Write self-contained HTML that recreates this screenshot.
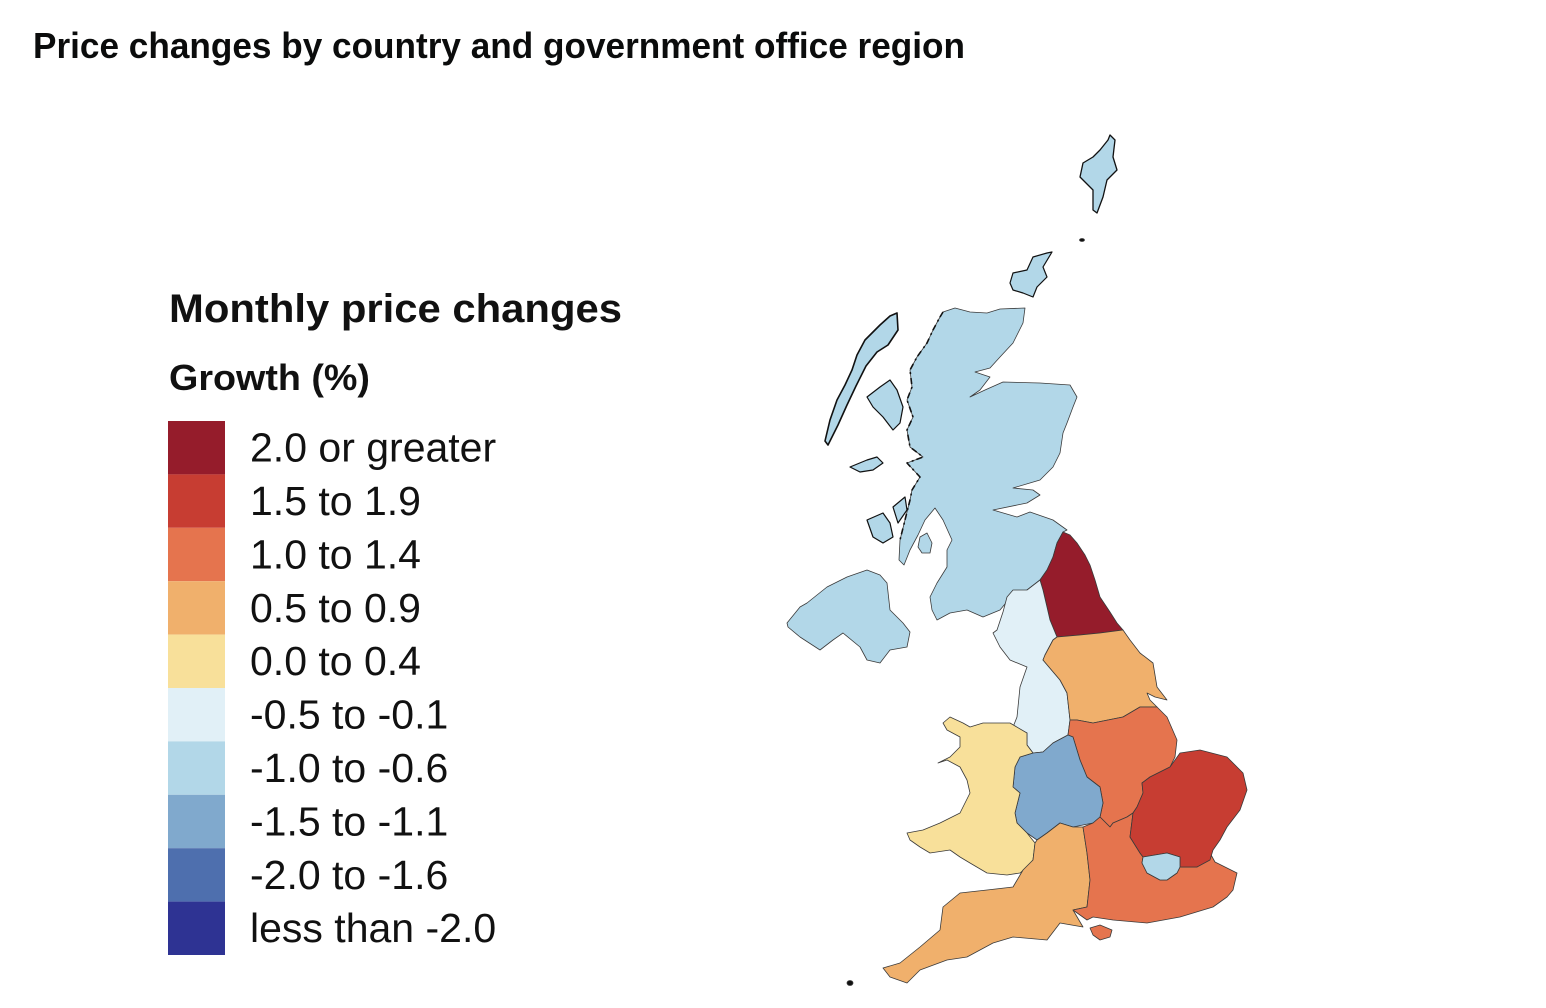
<!DOCTYPE html>
<html><head><meta charset="utf-8"><style>
html,body{margin:0;padding:0;background:#fff;}
svg{display:block;}
</style></head><body>
<svg width="1546" height="1008" viewBox="0 0 1546 1008" xmlns="http://www.w3.org/2000/svg">
<rect width="1546" height="1008" fill="#fff"/>
<text x="33" y="58" font-family="Liberation Sans, sans-serif" font-weight="bold" font-size="36" fill="#0b0c0c" textLength="932" lengthAdjust="spacingAndGlyphs">Price changes by country and government office region</text>
<text x="169" y="322" font-family="Liberation Sans, sans-serif" font-weight="bold" font-size="40" fill="#111" textLength="453" lengthAdjust="spacingAndGlyphs">Monthly price changes</text>
<text x="169" y="390" font-family="Liberation Sans, sans-serif" font-weight="bold" font-size="36" fill="#111" textLength="201" lengthAdjust="spacingAndGlyphs">Growth (%)</text>
<g>
<rect x="168" y="421" width="57" height="53.4" fill="#951c2b"/>
<rect x="168" y="474.4" width="57" height="53.4" fill="#c73d32"/>
<rect x="168" y="527.8" width="57" height="53.4" fill="#e5744e"/>
<rect x="168" y="581.2" width="57" height="53.4" fill="#f0b06c"/>
<rect x="168" y="634.6" width="57" height="53.4" fill="#f8e09a"/>
<rect x="168" y="688" width="57" height="53.4" fill="#e1f0f7"/>
<rect x="168" y="741.4" width="57" height="53.4" fill="#b2d7e8"/>
<rect x="168" y="794.8" width="57" height="53.4" fill="#80a9cd"/>
<rect x="168" y="848.2" width="57" height="53.4" fill="#4e6fae"/>
<rect x="168" y="901.6" width="57" height="53.4" fill="#2e3393"/>
</g>
<g font-family="Liberation Sans, sans-serif" font-size="41" fill="#111">
<text x="250" y="461.6">2.0 or greater</text>
<text x="250" y="515">1.5 to 1.9</text>
<text x="250" y="568.4">1.0 to 1.4</text>
<text x="250" y="621.8">0.5 to 0.9</text>
<text x="250" y="675.2">0.0 to 0.4</text>
<text x="250" y="728.6">-0.5 to -0.1</text>
<text x="250" y="782">-1.0 to -0.6</text>
<text x="250" y="835.4">-1.5 to -1.1</text>
<text x="250" y="888.8">-2.0 to -1.6</text>
<text x="250" y="942.2">less than -2.0</text>
</g>
<g stroke="#3a3a3a" stroke-width="0.8" stroke-linejoin="round">
<!-- Scotland -->
<polygon fill="#b2d7e8" points="943,312 955,308 970,312 987,313 1000,309 1025,308 1023,323 1013,343 1000,357 990,368 975,372 990,377 980,390 970,397 985,390 1003,382 1040,383 1070,385 1077,397 1073,407 1067,423 1063,433 1060,453 1053,467 1040,480 1013,488 1033,490 1040,495 1027,503 993,510 1017,517 1030,512 1053,520 1067,530 1063,532 1057,543 1053,557 1047,570 1040,580 1027,590 1010,598 1000,610 983,617 967,610 950,613 937,620 932,610 930,597 937,583 947,567 947,550 952,540 943,520 935,508 925,520 918,535 910,550 904,565 899,560 900,540 905,520 910,500 912,490 920,477 907,463 923,457 910,447 907,430 913,417 907,400 912,387 910,370 917,357 927,343 933,330 940,317"/>
<polyline fill="none" stroke="#111" stroke-width="1.6" stroke-dasharray="6 3 2 4" points="943,312 940,317 933,330 927,343 917,357 910,370 912,387 907,400 913,417 907,430 910,447 923,457 907,463 920,477 912,490 910,500 905,520 900,540"/>
<!-- Skye -->
<polygon fill="#b2d7e8" stroke="#111" stroke-width="1.2" points="867,397 880,387 890,380 897,390 903,407 900,423 893,430 883,417 873,407"/>
<!-- Mull -->
<polygon fill="#b2d7e8" stroke="#111" stroke-width="1.2" points="850,467 867,460 877,457 883,463 873,470 860,472"/>
<!-- Islay / Jura -->
<polygon fill="#b2d7e8" stroke="#111" stroke-width="1.2" points="867,520 883,513 890,523 893,537 883,543 873,537"/>
<polygon fill="#b2d7e8" stroke="#111" stroke-width="1.2" points="893,507 905,497 907,510 898,523"/>
<!-- Arran -->
<polygon fill="#b2d7e8" points="920,537 927,533 932,543 930,553 922,553 918,547"/>
<!-- Outer Hebrides -->
<polygon fill="#b2d7e8" stroke="#111" stroke-width="1.6" points="897,313 898,330 888,345 877,352 866,366 856,386 847,405 838,425 828,445 825,441 830,420 837,400 845,385 852,370 857,355 865,340 880,325 890,316"/>
<!-- Orkney -->
<polygon fill="#b2d7e8" stroke="#111" stroke-width="1.2" points="1013,273 1027,270 1033,257 1047,253 1052,252 1043,267 1047,277 1037,287 1033,297 1023,293 1013,290 1010,283"/>
<!-- Shetland -->
<polygon fill="#b2d7e8" stroke="#111" stroke-width="1.3" points="1110,135 1115,140 1113,157 1117,170 1107,180 1103,197 1097,213 1093,210 1093,190 1080,177 1083,163 1093,157 1100,150 1108,140"/>
<ellipse cx="1082" cy="240" rx="2.5" ry="1.5" fill="#111"/>
<ellipse cx="850" cy="983" rx="3" ry="2.5" fill="#111"/>
<!-- Northern Ireland -->
<polygon fill="#b2d7e8" points="787,623 800,607 807,603 827,587 847,577 867,570 880,575 887,583 890,610 903,623 910,632 907,647 890,650 880,663 867,660 860,647 843,633 833,640 820,650 800,637 788,627"/>
<!-- North East -->
<polygon fill="#951c2b" points="1063,532 1070,535 1077,543 1085,555 1090,565 1095,580 1100,597 1110,612 1117,623 1123,630 1100,633 1080,635 1057,637 1050,620 1047,607 1043,590 1040,580 1047,570 1053,557 1057,543"/>
<!-- North West -->
<polygon fill="#e1f0f7" points="1040,580 1043,590 1047,607 1050,620 1057,637 1053,640 1045,655 1043,660 1060,680 1067,693 1070,720 1068,735 1053,743 1043,752 1033,753 1027,745 1027,733 1013,727 1017,717 1020,687 1027,667 1010,660 1000,647 993,633 997,630 1003,612 1007,597 1013,590 1027,590"/>
<!-- Yorkshire -->
<polygon fill="#f0b06c" points="1057,637 1080,635 1100,633 1123,630 1130,640 1140,653 1153,663 1157,687 1167,700 1155,697 1147,693 1150,700 1157,707 1140,707 1123,717 1093,723 1077,720 1070,720 1067,693 1060,680 1043,660 1045,655 1053,640"/>
<!-- East Midlands -->
<polygon fill="#e5744e" points="1070,720 1077,720 1093,723 1123,717 1140,707 1157,707 1167,717 1177,740 1175,757 1170,767 1150,777 1142,783 1143,793 1137,807 1133,813 1127,817 1113,823 1110,827 1100,817 1103,803 1100,787 1087,777 1080,760 1073,737 1068,735"/>
<!-- West Midlands -->
<polygon fill="#80a9cd" points="1033,753 1043,752 1053,743 1068,735 1073,737 1080,760 1087,777 1100,787 1103,803 1100,817 1093,823 1073,827 1060,823 1047,833 1037,840 1027,833 1017,823 1015,813 1020,793 1013,787 1015,767 1020,757"/>
<!-- Wales -->
<polygon fill="#f8e09a" points="943,723 950,717 963,723 970,727 983,723 1010,723 1027,733 1027,745 1033,753 1020,757 1015,767 1013,787 1020,793 1015,813 1017,823 1027,833 1035,843 1033,860 1027,867 1020,873 1007,875 987,873 970,863 960,857 950,850 930,853 920,847 910,840 907,833 923,830 940,823 960,813 970,793 967,780 960,767 947,760 938,763 950,757 960,747 960,737 947,730"/>
<!-- South West -->
<polygon fill="#f0b06c" points="1037,840 1047,833 1060,823 1073,827 1083,827 1087,853 1090,880 1087,907 1073,910 1083,927 1060,923 1047,940 1013,937 993,943 967,957 947,960 920,970 907,983 890,977 883,968 900,963 920,947 940,930 943,907 960,893 987,890 1013,887 1023,870 1033,860 1035,843"/>
<!-- South East -->
<polygon fill="#e5744e" points="1083,827 1093,823 1100,817 1110,827 1113,823 1127,817 1133,813 1130,837 1140,853 1143,857 1142,863 1147,873 1160,880 1167,880 1177,873 1180,867 1197,867 1210,853 1215,862 1237,873 1233,890 1227,897 1213,907 1180,917 1147,923 1113,920 1093,917 1087,920 1073,910 1087,907 1090,880 1087,853"/>
<!-- East of England -->
<polygon fill="#c73d32" points="1170,767 1180,753 1200,750 1227,757 1243,773 1247,790 1240,810 1227,827 1220,840 1213,850 1210,860 1197,867 1180,867 1180,857 1167,853 1143,857 1140,853 1130,837 1133,813 1137,807 1143,793 1142,783 1150,777"/>
<!-- London -->
<polygon fill="#b2d7e8" points="1143,857 1167,853 1180,857 1180,867 1177,873 1167,880 1160,880 1147,873 1142,863"/>
<!-- Isle of Wight -->
<polygon fill="#e5744e" points="1090,928 1100,925 1112,930 1110,937 1100,940 1093,935"/>
</g>
</svg>
</body></html>
